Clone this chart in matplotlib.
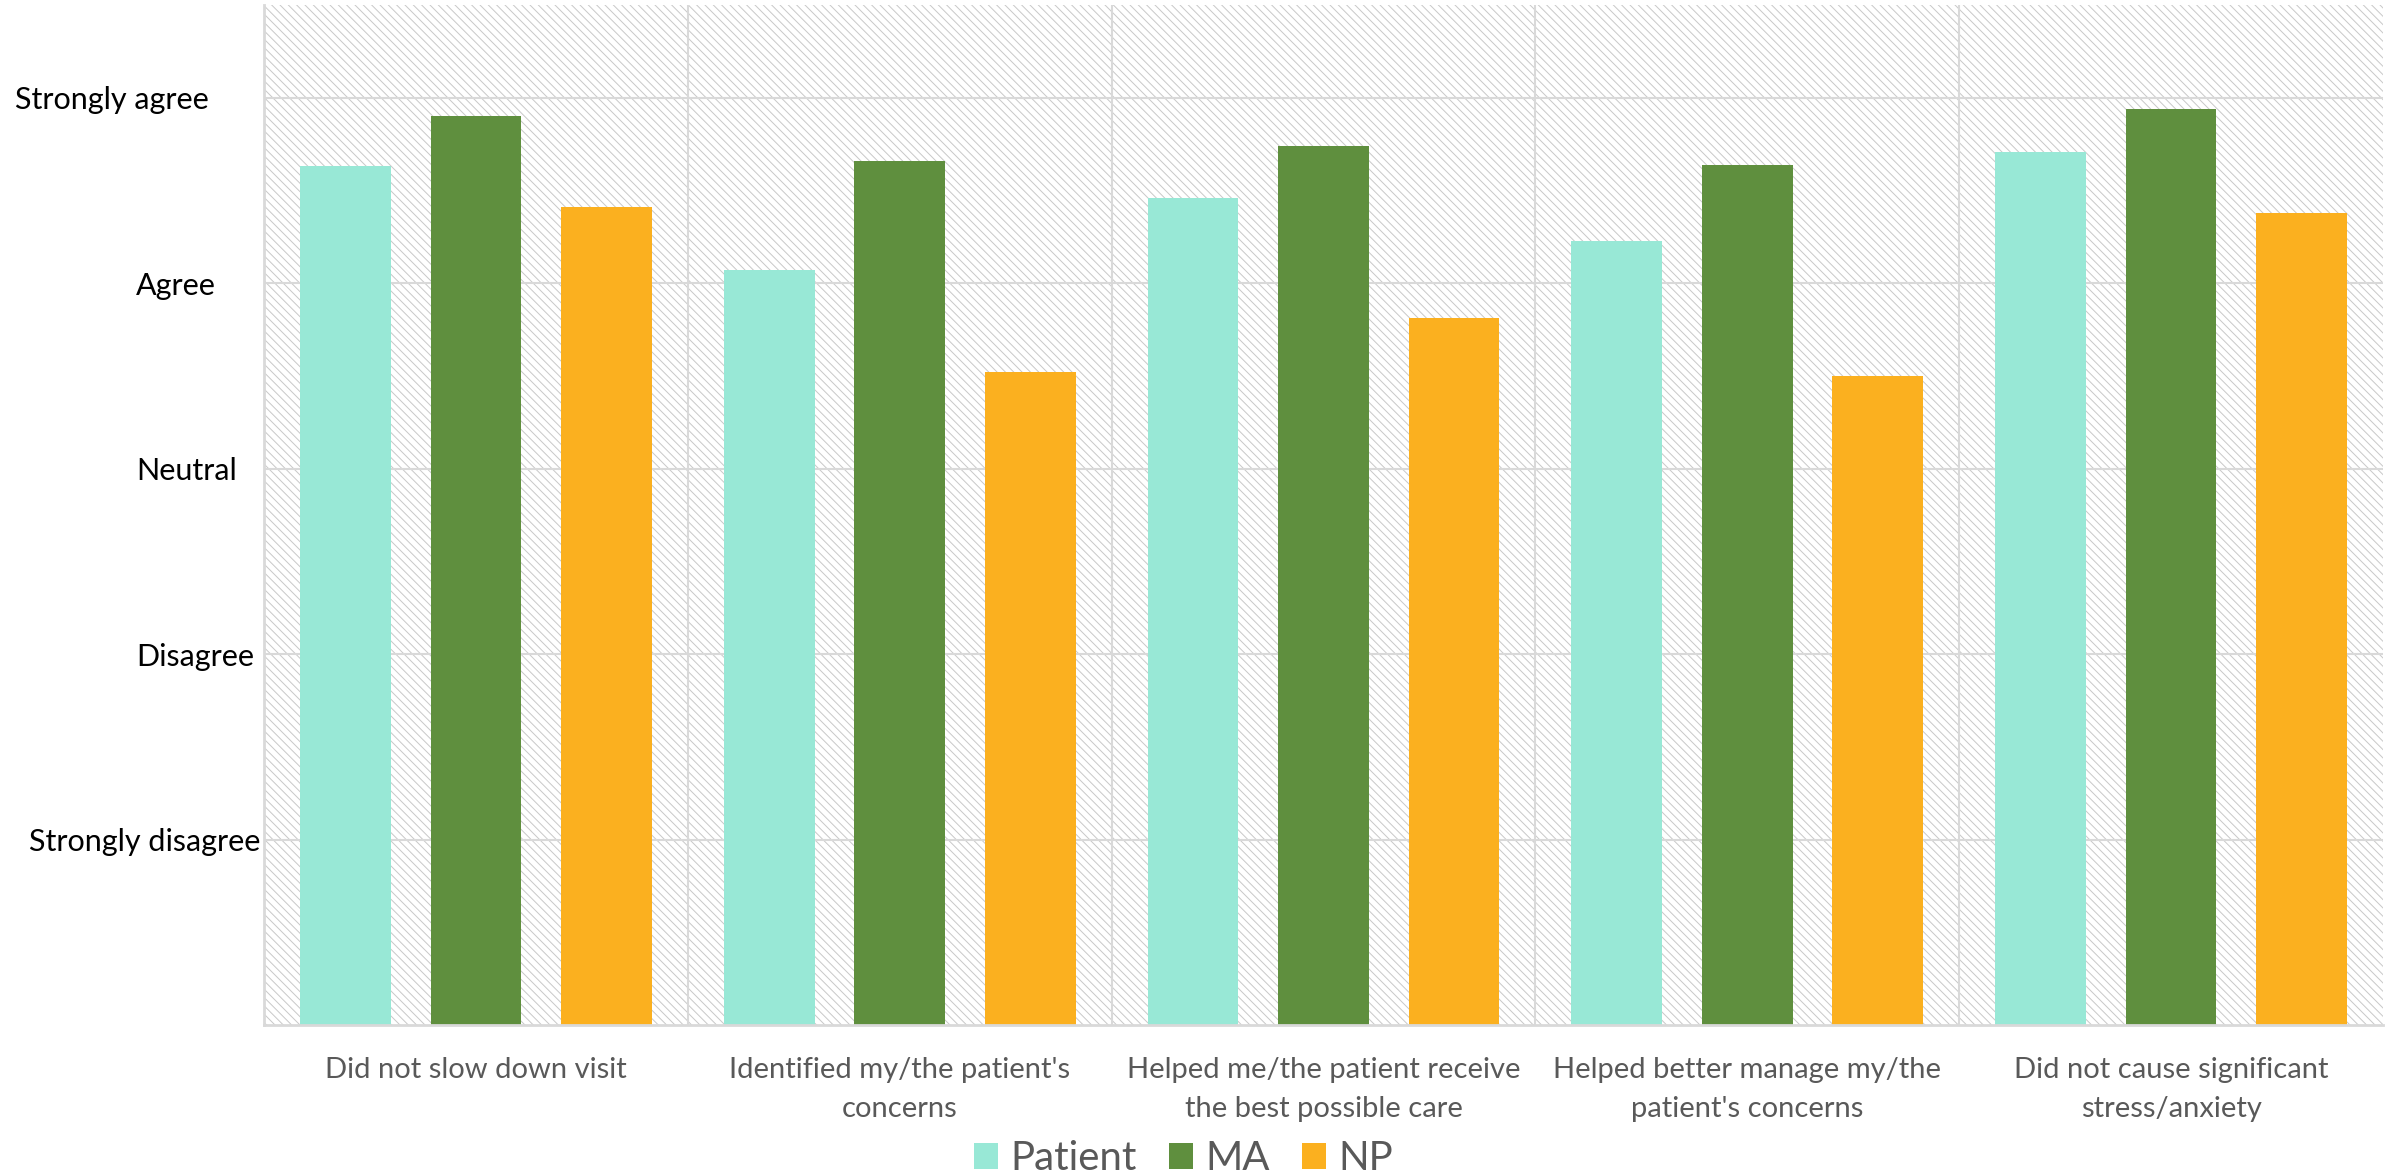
import matplotlib
matplotlib.use("Agg")
import matplotlib.pyplot as plt
from matplotlib.patches import Rectangle
from matplotlib.transforms import blended_transform_factory
import numpy as np

# survey statements (x axis) and mean response per group
categories = [
    "Did not slow down visit",
    "Identified my/the patient's\nconcerns",
    "Helped me/the patient receive\nthe best possible care",
    "Helped better manage my/the\npatient's concerns",
    "Did not cause significant\nstress/anxiety",
]
patient = [4.63, 4.07, 4.46, 4.23, 4.71]
ma = [4.90, 4.66, 4.74, 4.64, 4.94]
np_vals = [4.41, 3.52, 3.81, 3.50, 4.38]

series_names = ["Patient", "MA", "NP"]
series_colors = ["#98e8d6", "#5f8f3e", "#fbb01f"]

y_ticks = [1, 2, 3, 4, 5]
y_labels = ["Strongly disagree", "Disagree", "Neutral", "Agree", "Strongly agree"]
# the level labels are not aligned in the original, left edge of each (figure fraction)
y_label_left = [0.0121, 0.057, 0.057, 0.057, 0.0063]

plt.rcParams['font.family'] = ['Lato', 'DejaVu Sans']
plt.rcParams['hatch.color'] = '#c8c8c8'
plt.rcParams['hatch.linewidth'] = 0.7

fig = plt.figure(figsize=(23.87, 11.76), dpi=100)
ax = fig.add_axes([0.1106, 0.1284, 0.8877, 0.8673])

# hatched plot background
ax.add_patch(Rectangle((0, 0), 1, 1, transform=ax.transAxes, facecolor='white',
                       edgecolor='#c8c8c8', hatch='\\\\\\\\', linewidth=0, zorder=0))

x = np.arange(len(categories))
width = 0.214
offset = 0.308
for i, (vals, name, col) in enumerate(zip([patient, ma, np_vals], series_names, series_colors)):
    ax.bar(x + (i - 1) * offset, vals, width, color=col, label=name, zorder=2)

ax.set_xlim(-0.5, len(categories) - 0.5)
ax.set_ylim(0, 5.5)

ax.set_yticks(y_ticks)
ax.set_yticklabels([])
trans = blended_transform_factory(fig.transFigure, ax.transData)
for yv, lab, lx in zip(y_ticks, y_labels, y_label_left):
    ax.text(lx, yv, lab, transform=trans, ha='left', va='center_baseline',
            fontsize=22, color='black')

ax.set_xticks(x)
ax.set_xticklabels(categories, fontsize=21, color='#595959', linespacing=1.62)
ax.tick_params(axis='both', length=0)
ax.tick_params(axis='x', pad=23)

# gridlines: horizontal at each level, vertical between groups
ax.set_axisbelow(True)
ax.yaxis.grid(True, color='#d9d9d9', linewidth=1.5)
for b in np.arange(0.5, len(categories) - 0.5, 1):
    ax.axvline(b, color='#d9d9d9', linewidth=1.5, zorder=0.5)

for side in ['top', 'right']:
    ax.spines[side].set_visible(False)
for side in ['left', 'bottom']:
    ax.spines[side].set_color('#d9d9d9')
    ax.spines[side].set_linewidth(2)

fig.legend(loc='center', bbox_to_anchor=(0.4959, 0.0145), ncol=3, frameon=False,
           fontsize=29, labelcolor='#595959', handlelength=0.6, handleheight=0.6,
           handletextpad=0.3, columnspacing=0.8, borderpad=0)

fig.savefig("out.png", dpi=100)
